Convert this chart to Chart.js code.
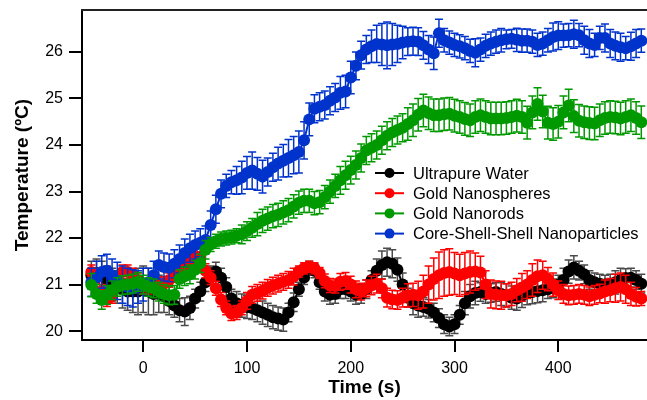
<!DOCTYPE html>
<html>
<head>
<meta charset="utf-8">
<script src="https://cdn.jsdelivr.net/npm/chart.js@4/dist/chart.umd.min.js"></script>
<style>
    html, body { margin: 0; padding: 0; background: #fff; }
</style>
</head>
<body>
<canvas id="grafico" width="647" height="400"></canvas>
<script>
// tempo (s), uma leitura a cada 5 s
const tempos = [
    -50, -45, -40, -35, -30, -25, -20, -15, -10, -5,
    0, 5, 10, 15, 20, 25, 30, 35, 40, 45,
    50, 55, 60, 65, 70, 75, 80, 85, 90, 95,
    100, 105, 110, 115, 120, 125, 130, 135, 140, 145,
    150, 155, 160, 165, 170, 175, 180, 185, 190, 195,
    200, 205, 210, 215, 220, 225, 230, 235, 240, 245,
    250, 255, 260, 265, 270, 275, 280, 285, 290, 295,
    300, 305, 310, 315, 320, 325, 330, 335, 340, 345,
    350, 355, 360, 365, 370, 375, 380, 385, 390, 395,
    400, 405, 410, 415, 420, 425, 430, 435, 440, 445,
    450, 455, 460, 465, 470, 475, 480
];

const nomes = ['Ultrapure Water', 'Gold Nanospheres', 'Gold Nanorods', 'Core-Shell-Shell Nanoparticles'];

const agua = [
    21.2, 21.25, 21.2, 21.1, 21.0, 20.95, 20.9, 20.85, 20.85, 20.85,
    20.9, 20.85, 20.8, 20.8, 20.75, 20.65, 20.55, 20.45, 20.42, 20.5,
    20.7, 20.85, 21.05, 21.2, 21.28, 21.15, 20.95, 20.7, 20.6, 20.55,
    20.52, 20.5, 20.45, 20.4, 20.35, 20.3, 20.27, 20.25, 20.4, 20.62,
    20.9, 21.15, 21.35, 21.3, 21.05, 20.85, 20.78, 20.8, 20.9, 20.9,
    20.85, 20.78, 20.8, 20.9, 21.1, 21.3, 21.42, 21.48, 21.45, 21.32,
    21.0, 20.72, 20.6, 20.55, 20.52, 20.48, 20.4, 20.28, 20.15, 20.1,
    20.15, 20.35, 20.6, 20.75, 20.82, 20.84, 20.8, 20.82, 20.84, 20.8,
    20.77, 20.72, 20.7, 20.76, 20.82, 20.84, 20.86, 20.88, 20.9, 20.92,
    21.0, 21.1, 21.28, 21.37, 21.3, 21.22, 21.1, 21.05, 21.02, 21.0,
    21.02, 21.05, 21.1, 21.14, 21.15, 21.1, 21.02
];
const aguaErro = [
    0.3, 0.3, 0.3, 0.3, 0.35, 0.35, 0.4, 0.4, 0.45, 0.5,
    0.5, 0.5, 0.45, 0.4, 0.35, 0.3, 0.25, 0.25, 0.3, 0.25,
    0.2, 0.2, 0.2, 0.2, 0.2, 0.2, 0.2, 0.2, 0.25, 0.25,
    0.25, 0.25, 0.25, 0.25, 0.25, 0.25, 0.25, 0.25, 0.2, 0.2,
    0.15, 0.15, 0.15, 0.15, 0.15, 0.2, 0.2, 0.2, 0.2, 0.2,
    0.2, 0.2, 0.2, 0.2, 0.2, 0.25, 0.3, 0.3, 0.3, 0.25,
    0.25, 0.2, 0.25, 0.25, 0.2, 0.2, 0.2, 0.2, 0.2, 0.2,
    0.2, 0.2, 0.25, 0.25, 0.25, 0.2, 0.2, 0.2, 0.2, 0.25,
    0.25, 0.25, 0.25, 0.25, 0.25, 0.25, 0.25, 0.25, 0.2, 0.2,
    0.2, 0.25, 0.25, 0.25, 0.2, 0.2, 0.2, 0.2, 0.2, 0.2,
    0.2, 0.25, 0.25, 0.2, 0.2, 0.2, 0.2
];

const esferas = [
    21.27, 21.2, 20.85, 20.68, 20.75, 21.1, 21.27, 21.27, 21.2, 21.1,
    20.95, 20.95, 21.0, 21.0, 21.02, 21.1, 21.2, 21.3, 21.4, 21.52,
    21.62, 21.55, 21.3, 21.15, 20.92, 20.68, 20.5, 20.38, 20.4, 20.5,
    20.65, 20.78, 20.82, 20.87, 20.93, 20.98, 21.02, 21.06, 21.1, 21.17,
    21.28, 21.35, 21.38, 21.35, 21.25, 21.08, 20.98, 20.97, 21.06, 21.08,
    21.0, 20.9, 20.85, 20.92, 20.98, 21.02, 20.92, 20.72, 20.68, 20.67,
    20.72, 20.77, 20.78, 20.77, 20.85, 21.0, 21.12, 21.2, 21.25, 21.27,
    21.24, 21.2, 21.24, 21.27, 21.28, 21.26, 21.0, 20.8, 20.78, 20.77,
    20.77, 20.8, 20.88, 20.94, 21.0, 21.1, 21.18, 21.2, 21.12, 21.0,
    20.88, 20.8, 20.77, 20.78, 20.8, 20.78, 20.75, 20.78, 20.81, 20.85,
    20.88, 20.92, 20.95, 20.9, 20.8, 20.74, 20.7
];
const esferasErro = [
    0.15, 0.15, 0.15, 0.15, 0.15, 0.15, 0.15, 0.15, 0.15, 0.15,
    0.15, 0.15, 0.15, 0.15, 0.15, 0.15, 0.15, 0.15, 0.15, 0.15,
    0.15, 0.15, 0.15, 0.15, 0.15, 0.15, 0.15, 0.15, 0.15, 0.15,
    0.18, 0.18, 0.18, 0.18, 0.18, 0.18, 0.18, 0.18, 0.18, 0.18,
    0.12, 0.12, 0.12, 0.12, 0.12, 0.15, 0.15, 0.15, 0.18, 0.18,
    0.18, 0.18, 0.18, 0.18, 0.2, 0.2, 0.2, 0.2, 0.2, 0.2,
    0.2, 0.25, 0.25, 0.3, 0.35, 0.4, 0.45, 0.5, 0.5, 0.5,
    0.45, 0.45, 0.45, 0.45, 0.4, 0.35, 0.3, 0.3, 0.3, 0.3,
    0.25, 0.25, 0.25, 0.3, 0.3, 0.35, 0.35, 0.3, 0.25, 0.25,
    0.2, 0.2, 0.2, 0.2, 0.2, 0.2, 0.2, 0.2, 0.2, 0.25,
    0.25, 0.3, 0.3, 0.3, 0.25, 0.2, 0.15
];

const bastoes = [
    20.99, 20.8, 20.67, 20.78, 20.88, 20.95, 20.99, 21.0, 21.02, 21.06,
    21.0, 20.95, 20.92, 20.85, 20.8, 20.77, 20.78, 21.12, 21.18, 21.22,
    21.32, 21.46, 21.75, 21.86, 21.93, 21.98, 22.0, 22.02, 22.05, 22.08,
    22.15, 22.22, 22.3, 22.37, 22.42, 22.47, 22.5, 22.55, 22.6, 22.68,
    22.76, 22.8, 22.8, 22.75, 22.77, 22.88, 23.0, 23.12, 23.24, 23.35,
    23.46, 23.57, 23.72, 23.88, 23.94, 24.0, 24.1, 24.2, 24.27, 24.32,
    24.37, 24.45, 24.53, 24.65, 24.74, 24.68, 24.64, 24.64, 24.66, 24.67,
    24.63, 24.6, 24.56, 24.53, 24.6, 24.64, 24.6, 24.57, 24.57, 24.57,
    24.58, 24.6, 24.63, 24.6, 24.48, 24.7, 24.88, 24.72, 24.48, 24.45,
    24.5, 24.7, 24.85, 24.62, 24.52, 24.49, 24.47, 24.46, 24.53, 24.58,
    24.6, 24.59, 24.57, 24.6, 24.64, 24.58, 24.49
];
const bastoesErro = [
    0.25, 0.2, 0.2, 0.2, 0.2, 0.2, 0.2, 0.2, 0.2, 0.2,
    0.2, 0.2, 0.2, 0.2, 0.2, 0.2, 0.2, 0.2, 0.2, 0.2,
    0.2, 0.2, 0.2, 0.15, 0.15, 0.15, 0.15, 0.15, 0.15, 0.2,
    0.2, 0.2, 0.25, 0.25, 0.25, 0.25, 0.25, 0.25, 0.25, 0.25,
    0.25, 0.25, 0.25, 0.25, 0.25, 0.25, 0.25, 0.25, 0.3, 0.3,
    0.3, 0.3, 0.3, 0.3, 0.3, 0.3, 0.3, 0.3, 0.3, 0.3,
    0.3, 0.35, 0.35, 0.35, 0.35, 0.35, 0.35, 0.35, 0.35, 0.35,
    0.35, 0.35, 0.35, 0.35, 0.35, 0.35, 0.35, 0.35, 0.35, 0.35,
    0.35, 0.35, 0.35, 0.35, 0.35, 0.35, 0.35, 0.35, 0.35, 0.35,
    0.35, 0.35, 0.35, 0.35, 0.35, 0.35, 0.35, 0.35, 0.35, 0.35,
    0.35, 0.35, 0.35, 0.35, 0.35, 0.35, 0.35
];

const nanoparticulas = [
    21.05, 21.15, 21.27, 21.3, 21.2, 21.08, 21.0, 20.95, 20.92, 20.95,
    21.0, 21.05, 21.2, 21.42, 21.38, 21.36, 21.45, 21.55, 21.68, 21.78,
    21.85, 21.9, 21.96, 22.28, 22.62, 22.95, 23.12, 23.2, 23.24, 23.3,
    23.4, 23.45, 23.38, 23.32, 23.42, 23.52, 23.6, 23.66, 23.72, 23.78,
    23.85, 24.1, 24.55, 24.78, 24.82, 24.86, 24.95, 25.02, 25.12, 25.15,
    25.45, 25.7, 25.93, 26.05, 26.12, 26.17, 26.16, 26.14, 26.16, 26.17,
    26.2, 26.22, 26.23, 26.22, 26.14, 26.05, 25.97, 26.4, 26.25, 26.2,
    26.15, 26.12, 26.08, 26.02, 25.98, 26.05, 26.13, 26.18, 26.22, 26.25,
    26.27, 26.28, 26.26, 26.24, 26.24, 26.22, 26.15, 26.18, 26.25, 26.32,
    26.35, 26.35, 26.36, 26.38, 26.36, 26.25, 26.18, 26.15, 26.3, 26.3,
    26.18, 26.13, 26.1, 26.08, 26.12, 26.18, 26.24
];
const nanoparticulasErro = [
    0.3, 0.35, 0.35, 0.35, 0.35, 0.4, 0.4, 0.4, 0.4, 0.35,
    0.35, 0.3, 0.3, 0.3, 0.3, 0.3, 0.3, 0.3, 0.3, 0.3,
    0.3, 0.3, 0.3, 0.3, 0.3, 0.3, 0.25, 0.25, 0.3, 0.35,
    0.35, 0.4, 0.35, 0.35, 0.3, 0.3, 0.35, 0.35, 0.4, 0.4,
    0.45, 0.4, 0.35, 0.3, 0.3, 0.3, 0.3, 0.3, 0.35, 0.35,
    0.35, 0.3, 0.3, 0.3, 0.35, 0.4, 0.45, 0.5, 0.45, 0.4,
    0.35, 0.3, 0.3, 0.3, 0.3, 0.3, 0.35, 0.3, 0.25, 0.25,
    0.25, 0.25, 0.25, 0.25, 0.3, 0.25, 0.25, 0.25, 0.25, 0.25,
    0.2, 0.2, 0.25, 0.25, 0.25, 0.25, 0.25, 0.25, 0.25, 0.3,
    0.3, 0.25, 0.25, 0.3, 0.25, 0.3, 0.3, 0.25, 0.25, 0.3,
    0.3, 0.3, 0.3, 0.25, 0.3, 0.3, 0.25
];

const ticksX = [0, 100, 200, 300, 400];
const ticksY = [20, 21, 22, 23, 24, 25, 26];

const cores = ['#000000', '#ff0000', '#009900', '#0033cc'];
const coresErro = ['#4a4a4a', '#ff0000', '#009900', '#0033cc'];

const fonte = '"Liberation Sans", Arial, Helvetica, sans-serif';
Chart.defaults.font.family = fonte;
Chart.defaults.color = '#000';

function montarDados(valores) {
    return tempos.map((t, i) => ({ x: t, y: valores[i] }));
}

// barras de erro desenhadas antes dos pontos de cada serie
const barrasErro = {
    id: 'barrasErro',
    beforeDatasetDraw(chart, args) {
        const ds = chart.data.datasets[args.index];
        const ctx = chart.ctx;
        const yScale = chart.scales.y;
        const area = chart.chartArea;
        ctx.save();
        ctx.beginPath();
        ctx.rect(area.left, area.top, area.right - area.left, area.bottom - area.top);
        ctx.clip();
        ctx.strokeStyle = ds.corErro;
        ctx.lineWidth = 1.5;
        args.meta.data.forEach((pt, i) => {
            const v = ds.data[i].y;
            const e = ds.erros[i];
            const yTop = yScale.getPixelForValue(v + e);
            const yBot = yScale.getPixelForValue(v - e);
            ctx.beginPath();
            ctx.moveTo(pt.x, yTop);
            ctx.lineTo(pt.x, yBot);
            ctx.moveTo(pt.x - 4, yTop);
            ctx.lineTo(pt.x + 4, yTop);
            ctx.moveTo(pt.x - 4, yBot);
            ctx.lineTo(pt.x + 4, yBot);
            ctx.stroke();
        });
        ctx.restore();
    }
};

// legenda dentro do grafico + linha superior da moldura
const legendaInterna = {
    id: 'legendaInterna',
    afterDraw(chart) {
        const ctx = chart.ctx;
        const area = chart.chartArea;
        ctx.save();
        ctx.strokeStyle = '#222';
        ctx.lineWidth = 2;
        ctx.beginPath();
        ctx.moveTo(area.left - 1, area.top);
        ctx.lineTo(area.right, area.top);
        ctx.stroke();

        ctx.font = '16.5px ' + fonte;
        ctx.textBaseline = 'middle';
        ctx.textAlign = 'left';
        nomes.forEach((nome, i) => {
            const y = 173 + i * 20.2;
            ctx.strokeStyle = cores[i];
            ctx.lineWidth = 2;
            ctx.beginPath();
            ctx.moveTo(375, y);
            ctx.lineTo(404, y);
            ctx.stroke();
            ctx.fillStyle = cores[i];
            ctx.beginPath();
            ctx.arc(389.5, y, 5, 0, Math.PI * 2);
            ctx.fill();
            ctx.fillStyle = '#000';
            ctx.fillText(nome, 413, y + 1);
        });
        ctx.restore();
    }
};

const series = [agua, esferas, bastoes, nanoparticulas];
const erros = [aguaErro, esferasErro, bastoesErro, nanoparticulasErro];
const ordem = [3, 2, 0, 1];

const ctx = document.getElementById('grafico').getContext('2d');
const chart = new Chart(ctx, {
    type: 'line',
    data: {
        datasets: series.map((s, i) => ({
            label: nomes[i],
            data: montarDados(s),
            erros: erros[i],
            corErro: coresErro[i],
            borderColor: cores[i],
            backgroundColor: cores[i],
            pointBackgroundColor: cores[i],
            borderWidth: 2,
            pointRadius: 6,
            pointHoverRadius: 6,
            pointBorderWidth: 0,
            tension: 0,
            order: ordem[i],
            clip: false
        }))
    },
    options: {
        responsive: false,
        animation: false,
        layout: { autoPadding: false, padding: { top: 10, right: 0, left: 0, bottom: 0 } },
        plugins: {
            legend: { display: false },
            tooltip: { enabled: false }
        },
        scales: {
            x: {
                type: 'linear',
                min: -59,
                max: 485.5,
                afterBuildTicks: s => { s.ticks = ticksX.map(v => ({ value: v })); },
                afterFit: s => { s.height = 60; s.paddingLeft = 0; s.paddingRight = 0; },
                grid: { drawOnChartArea: false, tickLength: 12, lineWidth: 2, color: '#000', tickColor: '#000' },
                border: { color: '#000', width: 2 },
                ticks: { font: { size: 16 }, padding: 7, maxRotation: 0, color: '#000' },
                title: { display: true, text: 'Time (s)', font: { size: 19, weight: 'bold' }, color: '#000', padding: { top: 0, bottom: 1 } }
            },
            y: {
                min: 19.81,
                max: 26.9,
                afterBuildTicks: s => { s.ticks = ticksY.map(v => ({ value: v })); },
                afterFit: s => { s.width = 82; s.paddingTop = 0; s.paddingBottom = 0; },
                grid: { drawOnChartArea: false, tickLength: 13, lineWidth: 2, color: '#000', tickColor: '#000' },
                border: { color: '#000', width: 2 },
                ticks: { font: { size: 16 }, padding: 6, color: '#000' },
                title: { display: true, text: 'Temperature (ºC)', font: { size: 19, weight: 'bold' }, color: '#000', padding: { top: 11, bottom: 0 } }
            }
        }
    },
    plugins: [barrasErro, legendaInterna]
});
</script>
</body>
</html>
